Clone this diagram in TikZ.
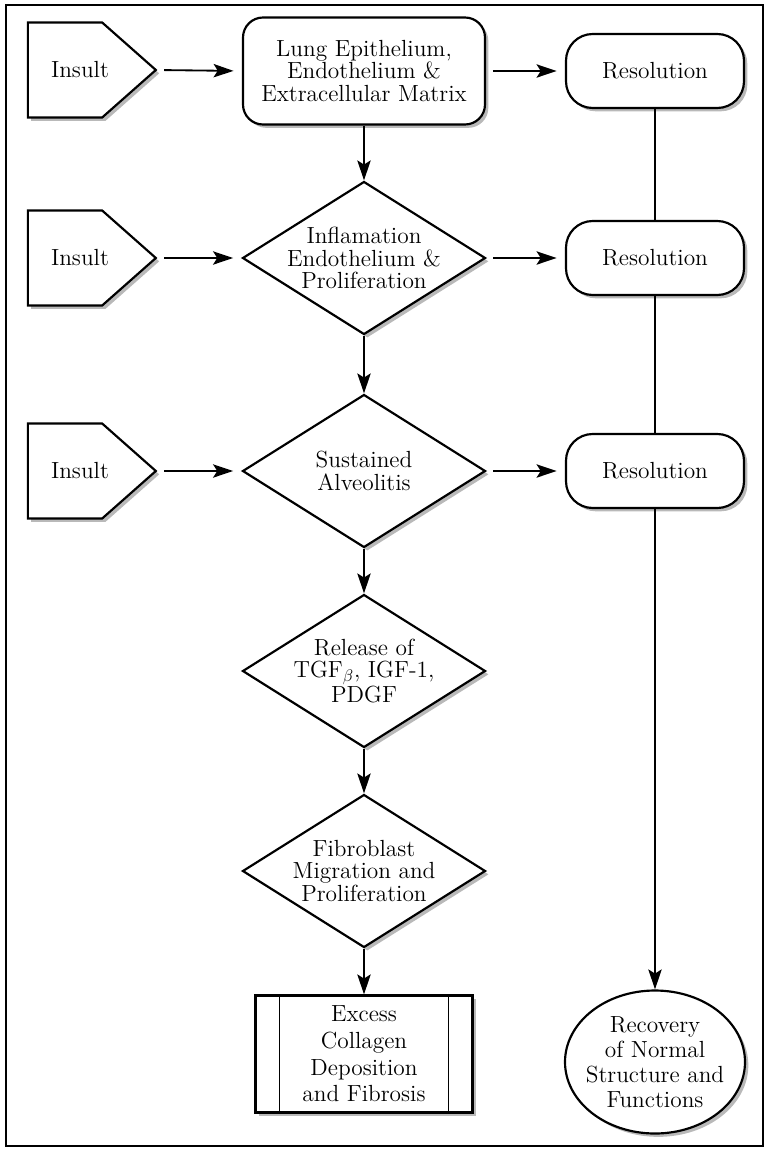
\documentclass[tikz,border=0pt]{standalone}
\usepackage{fontspec}
\usepackage{amsmath}
\usetikzlibrary{arrows.meta}
\usetikzlibrary{shapes.geometric,shapes.symbols,shadows}
\tikzset{
  every node/.style={font=\fontsize{14}{13.6}\selectfont},
  every label/.style={font=\fontsize{14}{13.6}\selectfont}
}

\begin{document}
\begin{tikzpicture}[x=0.6pt, y=-0.6pt]
  \tikzset{
    shadowed/.style={
      drop shadow={shadow xshift=2pt, shadow yshift=-2pt, fill=black!55}
    },
    insultbox/.style={
      signal,
      signal to=east,
      signal pointer angle=83,
      draw,
      fill=white,
      line width=1.3pt,
      minimum width=76.8pt,
      minimum height=57pt,
      inner sep=0pt,
      shadowed
    },
    tissuebox/.style={
      draw,
      rectangle,
      rounded corners=12pt,
      fill=white,
      line width=1.3pt,
      minimum width=145.2pt,
      minimum height=64.2pt,
      align=center,
      shadowed
    },
    resbox/.style={
      draw,
      rectangle,
      rounded corners=16pt,
      fill=white,
      line width=1.3pt,
      minimum width=106.8pt,
      minimum height=44.4pt,
      shadowed
    },
    stepdiamond/.style={
      draw,
      diamond,
      aspect=1.59,
      fill=white,
      line width=1.3pt,
      minimum width=145.8pt,
      minimum height=91.8pt,
      inner sep=-6pt,
      align=center,
      shadowed
    },
    endbox/.style={
      draw,
      rectangle,
      fill=white,
      line width=1.3pt,
      minimum width=130.2pt,
      minimum height=70.2pt,
      inner sep=1pt,
      align=center,
      font=\fontsize{14}{16}\selectfont,
      shadowed,
      path picture={
        \draw[line width=1pt]
          ([xshift=14.4pt]path picture bounding box.north west) --
          ([xshift=14.4pt]path picture bounding box.south west);
        \draw[line width=1pt]
          ([xshift=-14.4pt]path picture bounding box.north east) --
          ([xshift=-14.4pt]path picture bounding box.south east);
      }
    },
    recoverybox/.style={
      draw,
      ellipse,
      fill=white,
      line width=1.3pt,
      minimum width=108pt,
      minimum height=85.8pt,
      inner sep=-8pt,
      align=center,
      font=\fontsize{14}{15}\selectfont,
      shadowed
    },
    flow/.style={
      draw,
      line width=1.1pt,
      -{Stealth[length=12pt, width=8pt, inset=2.5pt]}
    },
    sideflow/.style={
      flow,
      shorten <=4pt,
      shorten >=5pt
    },
    link/.style={
      draw,
      line width=0.9pt
    }
  }

  % Frame
  \useasboundingbox (0,0) rectangle (765,1150);
  \draw[line width=1.2pt] (6,5) rectangle (763,1146);

  % Nodes
  \node[insultbox, label={[xshift=9pt]center:Insult}] (ins1) at (65,70) {};
  \node[insultbox, label={[xshift=9pt]center:Insult}] (ins2) at (65,258) {};
  \node[insultbox, label={[xshift=9pt]center:Insult}] (ins3) at (65,471) {};

  \node[tissuebox] (lung) at (364,71) {Lung Epithelium,\\ Endothelium \&\\ Extracellular Matrix};
  \node[stepdiamond] (inflam) at (364,258) {Inflamation\\ Endothelium \&\\ Proliferation};
  \node[stepdiamond] (alveo) at (364,471) {Sustained\\ Alveolitis};
  \node[stepdiamond] (release) at (364,671) {Release of\\ TGF$_{\beta}$, IGF-1,\\ PDGF};
  \node[stepdiamond] (fibro) at (364,871) {Fibroblast\\ Migration and\\ Proliferation};
  \node[endbox] (fibrosis) at (364,1054) {Excess\\ Collagen\\ Deposition\\ and Fibrosis};

  \node[resbox] (res1) at (655,71) {Resolution};
  \node[resbox] (res2) at (655,258) {Resolution};
  \node[resbox] (res3) at (655,471) {Resolution};
  \node[recoverybox] (recov) at (655,1062) {Recovery\\ of Normal\\ Structure and\\ Functions};

  % Edges
  \draw[sideflow] (ins1.east) -- (lung.west);
  \draw[sideflow] (ins2.east) -- (inflam.west);
  \draw[sideflow] (ins3.east) -- (alveo.west);
  \draw[sideflow] (lung.east) -- (res1.west);
  \draw[sideflow] (inflam.east) -- (res2.west);
  \draw[sideflow] (alveo.east) -- (res3.west);

  \draw[flow] (lung.south) -- (inflam.north);
  \draw[flow] (inflam.south) -- (alveo.north);
  \draw[flow] (alveo.south) -- (release.north);
  \draw[flow] (release.south) -- (fibro.north);
  \draw[flow] (fibro.south) -- (fibrosis.north);

  \draw[link] (res1.south) -- (res2.north);
  \draw[link] (res2.south) -- (res3.north);
  \draw[flow] (res3.south) -- (recov.north);
\end{tikzpicture}
\end{document}
